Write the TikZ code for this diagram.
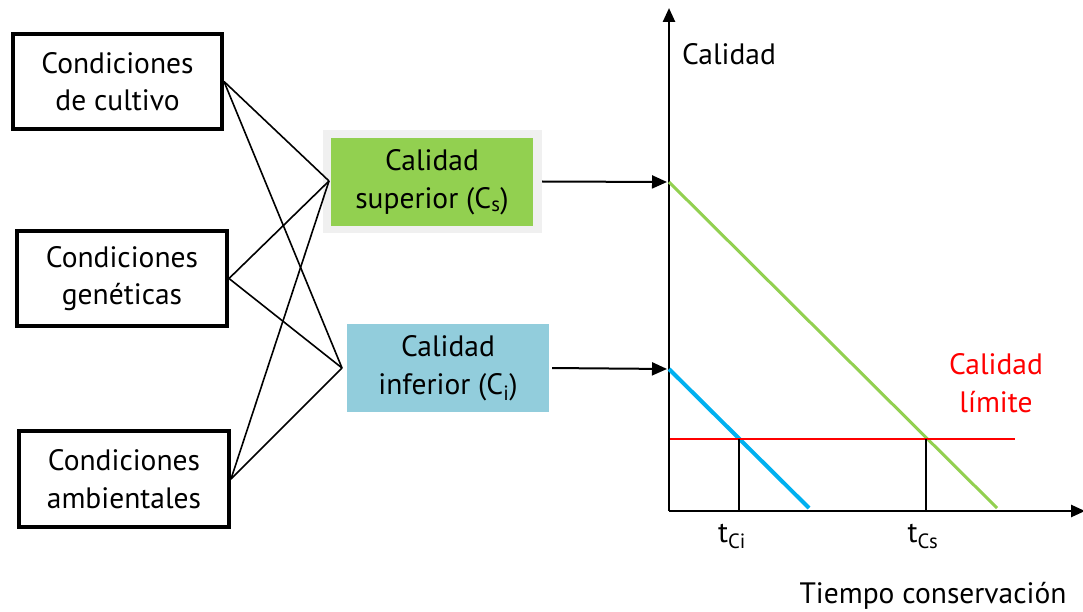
\documentclass[tikz,border=0pt]{standalone}
\usepackage{fontspec}
\setmainfont{PT Sans}
\usetikzlibrary{arrows.meta}
\definecolor{qgreen}{HTML}{92D050}
\definecolor{qblue}{HTML}{92CDDC}
\definecolor{lineblue}{HTML}{00B0F0}
\definecolor{framegray}{HTML}{F0F0F0}

\begin{document}
\begin{tikzpicture}[x=1pt,y=-1pt,
  txt/.style={font=\fontsize{29.5}{37.5}\selectfont, align=center, inner sep=0pt},
  cond/.style={txt, draw, line width=4pt, minimum width=210pt, minimum height=95pt},
  link/.style={line width=1.6pt},
  arr/.style={line width=2pt, -{Triangle[length=15pt,width=13pt]}},
  axis/.style={line width=2.5pt, -{Triangle[length=14pt,width=12pt]}},
]
\useasboundingbox (0,0) rectangle (1083,612);

% factor boxes
\node[cond, minimum width=209pt] (b1) at (117.5,81.5) {Condiciones\\de cultivo};
\node[cond] (b2) at (122,278.5) {Condiciones\\genéticas};
\node[cond, minimum height=96pt] (b3) at (124,479) {Condiciones\\ambientales};

% quality boxes
\node[fill=framegray, minimum width=219pt, minimum height=103pt, inner sep=0pt] (csframe) at (432.5,181.5) {};
\node[txt, fill=qgreen, minimum width=202pt, minimum height=88pt] (cs) at (432,182) {Calidad\\superior (C\textsubscript{s})};
\node[txt, fill=qblue, minimum width=202pt, minimum height=88pt] (ci) at (448,368) {Calidad\\inferior (C\textsubscript{i})};

% junctions
\coordinate (js) at (329,181);
\coordinate (ji) at (342,368);
\foreach \b in {b1,b2,b3}{
  \draw[link] (\b.east) -- (js);
  \draw[link] (\b.east) -- (ji);
}

% axes
\coordinate (O) at (669,511);
\coordinate (ytop) at (669,8);
\coordinate (xend) at (1085,511);
\draw[axis] (O) -- (ytop);
\draw[axis] (O) -- (xend);

% starting qualities on the axis
\coordinate (s0) at (669,182);
\coordinate (i0) at (669,369);
\draw[arr, shorten >=2pt] (csframe.east) -- (s0);
\draw[arr, shorten >=2pt, shorten <=3pt] (ci.east) -- (i0);

% decay lines
\coordinate (se) at (997,508);
\coordinate (ie) at (809,508);
\draw[qgreen, line width=3pt] (s0) -- (se);
\draw[lineblue, line width=4pt] (i0) -- (ie);

% limit quality
\coordinate (l0) at (670,439);
\coordinate (l1) at (1015,439);
\draw[red, line width=2pt] (l0) -- (l1);
\coordinate (pi) at (739,439);
\coordinate (ps) at (926,439);
\draw[line width=1.5pt] (pi) -- (pi |- O);
\draw[line width=1.5pt] (ps) -- (ps |- O);

% labels
\node[txt, anchor=base] (ylab) at (729,65) {Calidad};
\node[txt, text=red] (lim) at (996,383) {Calidad\\límite};
\node[txt, anchor=base] (xlab) at (933,603) {Tiempo conservación};
\node[txt, anchor=base] (tci) at (732,542) {t\textsubscript{Ci}};
\node[txt, anchor=base] (tcs) at (923,542) {t\textsubscript{Cs}};
\end{tikzpicture}
\end{document}
